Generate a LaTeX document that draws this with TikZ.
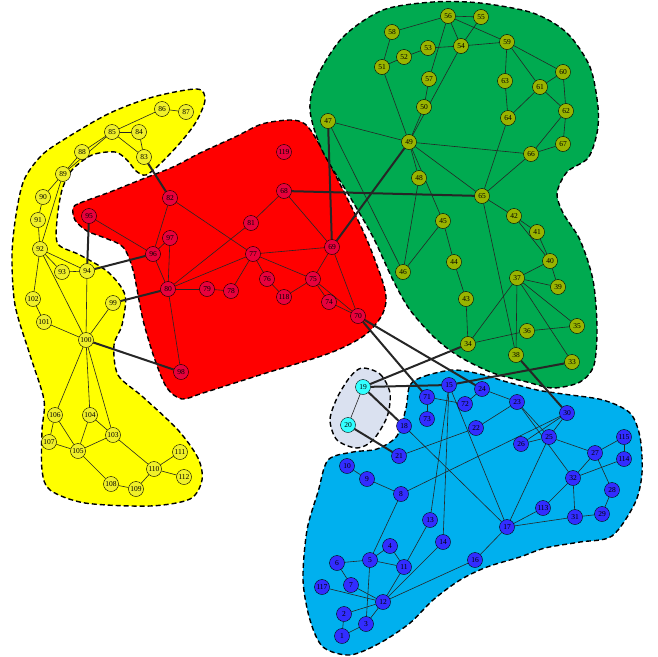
\documentclass[tikz,border=0pt]{standalone}
\usepackage{fontspec}
\setmainfont{Liberation Serif}
\pgfdeclarelayer{background}
\pgfsetlayers{background,main}
\definecolor{hullyellow}{RGB}{255,255,0}
\definecolor{hullred}{RGB}{255,0,0}
\definecolor{hullgreen}{RGB}{0,170,80}
\definecolor{hullblue}{RGB}{0,176,238}
\definecolor{hullgrey}{RGB}{218,225,240}
\definecolor{vyellow}{RGB}{240,240,40}
\definecolor{vred}{RGB}{232,0,60}
\definecolor{vgreen}{RGB}{153,180,0}
\definecolor{vblue}{RGB}{50,45,255}
\definecolor{vcyan}{RGB}{50,255,255}
\begin{document}
\begin{tikzpicture}[
x=1pt, y=-1pt,
every node/.style={circle,draw,inner sep=0pt,minimum size=15pt,font=\fontsize{7.5}{8}\selectfont},
ylw/.style={fill=vyellow},
rd/.style={fill=vred},
grn/.style={fill=vgreen},
blu/.style={fill=vblue},
cyn/.style={fill=vcyan},
link/.style={draw=black!85,line width=0.6pt},
bridge/.style={draw=black!85,line width=2pt},
hull/.style={draw=black,line width=1.4pt,dash pattern=on 5pt off 3pt}
]
\useasboundingbox (0,0) rectangle (658,656);

% yellow group
\foreach \n/\x/\y in {83/144/157, 84/139/132, 85/112/132, 86/162/109, 87/186/112,
  88/82/152, 89/63/174, 90/43/197, 91/38/220, 92/40/249, 93/62/272, 94/87/271,
  99/113/303, 100/86/340, 101/44/322, 102/33/299, 103/113/435, 104/90/415,
  105/78/451, 106/55/415, 107/49/442, 108/111/484, 109/136/489, 110/154/469,
  111/180/452, 112/184/477}
  \node[ylw] (n\n) at (\x,\y) {\n};

% red group
\foreach \n/\x/\y in {68/284/191, 69/332/247, 70/358/316, 74/329/302, 75/313/279,
  76/267/279, 77/253/254, 78/231/291, 79/207/289, 80/168/289, 81/251/223,
  82/170/198, 95/89/216, 96/153/254, 97/170/238, 98/181/372, 118/284/297,
  119/284/152}
  \node[rd] (n\n) at (\x,\y) {\n};

% green group
\foreach \n/\x/\y in {33/572/362, 34/468/344, 35/577/326, 36/527/331, 37/517/278,
  38/516/355, 39/558/287, 40/550/261, 41/537/232, 42/514/216, 43/466/299,
  44/454/262, 45/443/221, 46/403/272, 47/328/121, 48/419/178, 49/409/142,
  50/424/107, 51/382/67, 52/404/57, 53/428/48, 54/461/46, 55/481/17, 56/448/16,
  57/429/79, 58/392/32, 59/507/42, 60/563/72, 61/540/87, 62/566/111, 63/505/81,
  64/508/118, 65/482/196, 66/531/154, 67/563/144}
  \node[grn] (n\n) at (\x,\y) {\n};

% small group
\node[cyn] (n19) at (363,387) {19};
\node[cyn] (n20) at (348,425) {20};

% blue group
\foreach \n/\x/\y in {1/342/636, 2/344/614, 3/366/624, 4/390/546, 5/370/560,
  6/337/563, 7/351/585, 8/401/494, 9/367/479, 10/347/466, 11/404/567, 12/383/602,
  13/430/520, 14/443/542, 15/449/385, 16/475/560, 17/507/527, 18/404/426,
  21/399/456, 22/476/428, 23/517/402, 24/482/389, 25/549/437, 26/521/444,
  27/595/453, 28/612/490, 29/602/514, 30/567/413, 31/575/517, 32/573/478,
  71/427/397, 72/465/404, 73/427/419, 113/543/508, 114/624/459, 115/624/437,
  117/322/587}
  \node[blu] (n\n) at (\x,\y) {\n};

\begin{pgfonlayer}{background}
% hulls
\draw[hull,fill=hullyellow] plot[smooth cycle] coordinates {
  (197,89) (205,100) (196,122) (180,143) (160,164) (146,175) (136,171) (127,160)
  (115,152) (92,155) (72,170) (62,190) (57,220) (58,244) (80,255) (108,272)
  (125,295) (122,325) (114,345) (118,375) (143,397) (178,430) (198,458) (202,480)
  (190,499) (150,506) (85,503) (50,490) (42,470) (42,430) (44,400) (30,355)
  (15,305) (12,255) (16,215) (24,180) (42,155) (68,137) (110,113) (153,97)};
\draw[hull,fill=hullred] plot[smooth cycle] coordinates {
  (73,208) (80,203) (110,192) (140,180) (173,167) (200,153) (235,137) (262,124)
  (290,120) (305,124) (318,142) (343,190) (367,240) (385,290) (383,313) (365,335)
  (330,353) (263,374) (203,393) (182,399) (167,388) (155,360) (143,320) (133,270)
  (123,247) (105,238) (87,231) (75,220)};
\draw[hull,fill=hullgreen] plot[smooth cycle] coordinates {
  (310,110) (317,77) (343,37) (383,10) (433,2) (480,3) (533,13) (567,33) (590,67)
  (598,107) (597,133) (588,158) (567,172) (557,193) (563,213) (580,240) (593,280)
  (597,327) (594,365) (580,382) (553,388) (527,382) (493,373) (460,357) (435,338)
  (410,310) (393,280) (373,237) (350,197) (322,150)};
\draw[hull,fill=hullblue] plot[smooth cycle] coordinates {
  (410,385) (425,376) (453,370) (480,374) (507,382) (537,390) (563,394) (603,400)
  (630,413) (640,437) (642,473) (635,503) (612,536) (580,542) (545,548) (520,557)
  (487,567) (460,580) (433,600) (410,623) (380,643) (350,655) (323,647) (310,620)
  (303,580) (307,530) (318,492) (328,460) (353,452) (377,449) (397,436) (406,408)};
\draw[hull,fill=hullgrey] plot[smooth cycle] coordinates {
  (362,368) (380,374) (390,393) (387,417) (373,440) (357,448) (337,440) (330,420)
  (337,398) (350,377)};

% edges inside groups
\foreach \a/\b in {86/87, 85/86, 85/84, 85/83, 84/83, 85/88, 88/89, 85/89, 89/90,
  90/91, 91/92, 89/92, 92/93, 92/94, 92/102, 92/100, 93/94, 94/100, 102/101,
  101/100, 99/100, 100/106, 100/104, 100/103, 106/107, 106/105, 104/105, 104/103,
  107/105, 103/105, 103/110, 105/108, 108/109, 109/110, 110/111, 110/112,
  82/96, 82/77, 95/96, 96/97, 96/80, 97/80, 80/79, 79/78, 80/77, 80/81, 80/98,
  77/78, 77/76, 77/69, 77/75, 76/118, 118/75, 75/69, 75/74, 75/70, 74/70, 69/70,
  68/69, 68/81,
  56/55, 56/58, 56/54, 56/59, 56/57, 57/50, 50/49, 54/49, 58/51, 51/52, 52/53,
  53/54, 54/55, 54/59, 51/49, 47/49, 47/46, 49/48, 49/45, 49/65, 49/66, 48/46,
  45/46, 45/44, 44/43, 43/34, 65/66, 65/42, 65/38, 65/64, 63/59, 63/64, 59/61,
  59/60, 60/61, 60/62, 61/62, 61/64, 62/67, 62/66, 66/67, 42/41, 42/40, 41/40,
  40/37, 40/39, 37/39, 37/35, 37/33, 37/38, 37/34, 36/35, 36/34,
  20/19,
  71/72, 71/73, 72/24, 24/23, 21/22, 22/23, 23/25, 23/32, 25/26, 30/26, 25/30,
  25/27, 25/17, 30/8, 8/9, 9/10, 8/5, 15/13, 15/14, 15/17, 18/17, 13/11, 14/12,
  17/16, 16/12, 17/113, 17/31, 113/32, 32/31, 32/27, 32/114, 27/115, 115/114,
  27/28, 28/29, 29/31, 11/4, 4/5, 5/6, 5/11, 5/3, 6/7, 7/12, 117/12, 11/12,
  12/2, 12/3, 3/1, 2/1}
  \draw[link] (n\a) -- (n\b);

% edges between groups
\foreach \a/\b in {83/82, 94/95, 94/96, 99/80, 100/98, 68/65, 69/47, 69/49,
  70/71, 70/24, 34/19, 19/15, 15/33, 19/18, 20/21, 38/30}
  \draw[bridge] (n\a) -- (n\b);
\end{pgfonlayer}
\end{tikzpicture}
\end{document}
